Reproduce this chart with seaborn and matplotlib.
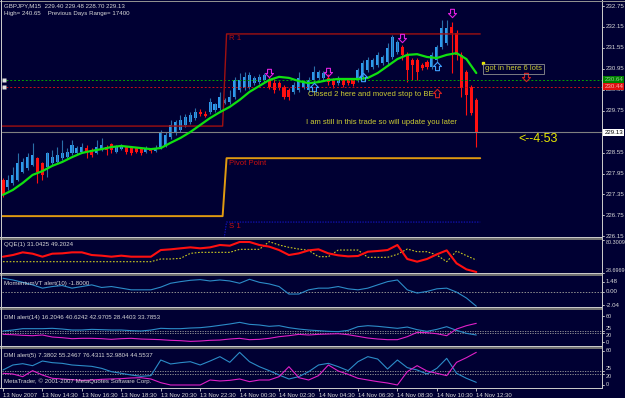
import matplotlib
matplotlib.use("Agg")
import matplotlib.pyplot as plt
import matplotlib.transforms as mtrans
from matplotlib.patches import Rectangle
from matplotlib.path import Path
from matplotlib import font_manager
import numpy as np
import seaborn as sns

# ---------------- data ----------------
title_line = "GBPJPY,M15  229.40 229.48 228.70 229.13"
info_line = "High= 240.65    Previous Days Range= 17400"

opens = [227.77, 227.56, 227.68, 227.77, 228.00, 228.11, 228.20, 228.39, 228.25, 228.14,
         228.25, 228.28, 228.39, 228.42, 228.54, 228.54, 228.57, 228.68, 228.62, 228.54,
         228.62, 228.71, 228.80, 228.57, 228.65, 228.71, 228.68, 228.68, 228.65, 228.57,
         228.65, 228.60, 228.71, 228.77, 228.99, 229.11, 229.20, 229.34, 229.43, 229.54,
         229.71, 229.66, 229.71, 229.77, 229.83, 229.97, 230.00, 230.14, 230.34, 230.40,
         230.43, 230.54, 230.57, 230.63, 230.63, 230.54, 230.54, 230.43, 230.34, 230.29,
         230.34, 230.43, 230.34, 230.63, 230.69, 230.69, 230.69, 230.63, 230.54, 230.63,
         230.63, 230.63, 230.63, 230.72, 230.92, 231.00, 231.06, 231.12, 231.15, 231.29,
         231.43, 231.58, 231.35, 231.20, 231.20, 231.06, 231.15, 231.00, 231.20, 231.58,
         231.69, 232.15, 231.98, 231.35, 230.86, 230.43, 230.06]
highs = [227.82, 227.91, 228.14, 228.54, 228.39, 228.54, 228.83, 228.42, 228.28, 228.57,
         228.62, 228.71, 228.91, 228.68, 228.91, 228.74, 228.83, 228.77, 228.68, 228.91,
         228.97, 228.77, 228.83, 228.77, 228.80, 228.74, 228.71, 228.71, 228.68, 228.74,
         228.68, 228.77, 229.20, 229.14, 229.48, 229.48, 229.63, 229.66, 229.71, 229.83,
         229.80, 229.74, 230.11, 229.97, 230.29, 230.11, 230.34, 230.72, 230.83, 230.86,
         230.86, 230.74, 230.80, 230.83, 230.72, 230.66, 230.60, 230.49, 230.40, 230.57,
         230.86, 230.63, 230.72, 231.03, 230.92, 230.89, 230.80, 230.69, 230.74, 230.69,
         230.69, 230.69, 230.97, 231.20, 231.29, 231.26, 231.43, 231.35, 231.69, 231.92,
         231.78, 231.63, 231.43, 231.26, 231.26, 231.12, 231.20, 231.43, 231.63, 232.35,
         232.35, 232.29, 232.06, 231.43, 230.92, 230.49, 230.11]
lows = [227.28, 227.48, 227.62, 227.74, 227.97, 228.05, 228.17, 227.68, 227.77, 227.85,
        228.20, 228.25, 228.34, 228.39, 228.48, 228.51, 228.54, 228.39, 228.42, 228.51,
        228.60, 228.48, 228.54, 228.54, 228.62, 228.51, 228.48, 228.54, 228.48, 228.54,
        228.54, 228.57, 228.65, 228.71, 228.94, 229.05, 229.14, 229.28, 229.37, 229.48,
        229.60, 229.57, 229.66, 229.71, 229.77, 229.93, 229.94, 230.09, 230.29, 230.34,
        230.37, 230.49, 230.52, 230.57, 230.37, 230.26, 230.34, 230.09, 230.06, 230.23,
        230.29, 230.37, 230.29, 230.57, 230.63, 230.63, 230.49, 230.40, 230.49, 230.43,
        230.49, 230.46, 230.57, 230.66, 230.86, 230.95, 231.00, 231.06, 231.09, 231.23,
        231.38, 231.20, 230.57, 230.63, 230.63, 230.93, 230.95, 230.95, 231.15, 231.52,
        231.63, 230.83, 231.20, 230.14, 229.63, 229.63, 228.70]
closes = [227.34, 227.77, 227.91, 228.25, 228.28, 228.42, 228.48, 228.00, 227.91, 228.54,
          228.42, 228.48, 228.54, 228.57, 228.77, 228.68, 228.71, 228.54, 228.48, 228.71,
          228.77, 228.62, 228.62, 228.71, 228.74, 228.57, 228.54, 228.57, 228.54, 228.68,
          228.60, 228.68, 229.14, 229.05, 229.34, 229.43, 229.48, 229.57, 229.63, 229.71,
          229.66, 229.60, 230.00, 229.93, 230.14, 230.06, 230.14, 230.63, 230.63, 230.72,
          230.77, 230.69, 230.72, 230.77, 230.43, 230.34, 230.40, 230.14, 230.14, 230.49,
          230.69, 230.57, 230.63, 230.86, 230.86, 230.83, 230.57, 230.49, 230.69, 230.49,
          230.54, 230.52, 230.92, 231.12, 231.20, 231.20, 231.35, 231.29, 231.55, 231.86,
          231.72, 231.35, 230.93, 231.06, 230.86, 230.97, 231.00, 231.35, 231.58, 232.12,
          232.12, 231.98, 231.35, 230.40, 230.20, 229.69, 229.13]

# indicator readings, every second bar
ind_bars = list(range(0, 97, 2))
ma_vals = [227.34, 227.48, 227.68, 227.91, 228.02, 228.17, 228.28, 228.42, 228.54, 228.60,
           228.65, 228.71, 228.74, 228.71, 228.68, 228.65, 228.68, 228.83, 228.97, 229.14,
           229.34, 229.54, 229.71, 229.86, 230.06, 230.29, 230.46, 230.63, 230.72, 230.69,
           230.60, 230.54, 230.57, 230.63, 230.66, 230.66, 230.66, 230.69, 230.83, 231.03,
           231.23, 231.35, 231.37, 231.29, 231.26, 231.35, 231.40, 231.23, 230.83]
qqe_rsi = [54.2, 56.8, 61.0, 58.9, 54.2, 58.9, 59.4, 61.0, 61.0, 56.8, 55.8, 54.2, 55.8,
           54.2, 54.2, 54.2, 64.6, 65.7, 67.3, 68.8, 67.3, 68.8, 72.5, 71.4, 77.2, 77.2,
           72.5, 69.9, 64.6, 56.8, 59.4, 64.1, 65.7, 59.4, 56.3, 54.7, 55.3, 62.0, 63.1,
           64.6, 72.5, 50.6, 46.4, 50.6, 57.9, 64.1, 43.8, 34.4, 30.3]
qqe_trail = [46.4] * 16 + [50.6, 50.6, 51.6, 59.4, 61.0, 61.0, 61.0, 61.0, 65.7, 65.7,
                           65.7, 77.7, 72.5, 68.8, 66.2, 64.1, 54.2, 54.2, 64.6, 64.6,
                           64.6, 53.2, 53.2, 53.2, 57.9, 66.2, 62.0, 62.0, 56.8, 46.4,
                           63.1, 55.8, 49.0]
momentum = [1.98, 1.73, 1.38, 1.00, 0.51, 0.75, 0.90, 0.51, 0.75, 1.00, 0.61, 0.75, 0.51,
            0.26, 0.26, 0.26, 0.66, 1.24, 1.48, 1.68, 1.78, 1.58, 1.73, 1.58, 1.24, 1.83,
            1.38, 1.14, 0.75, -0.37, -0.37, 0.26, 0.51, 0.51, 0.75, 0.41, 0.26, 0.51, 1.00,
            1.48, 1.73, 0.26, -0.22, 0.02, 0.41, 0.51, -0.08, -0.96, -2.18]
dmi14_plus = [25.4, 27.7, 30.8, 30.8, 30.8, 31.6, 30.0, 27.7, 27.7, 29.2, 28.5, 27.7, 27.7,
              26.2, 25.4, 27.7, 31.6, 30.8, 30.8, 32.3, 33.1, 35.4, 38.5, 41.6, 45.4, 40.8,
              39.3, 36.2, 37.7, 33.1, 30.0, 27.7, 26.2, 24.6, 23.9, 26.9, 35.4, 37.7, 36.2,
              33.9, 31.6, 34.6, 28.5, 24.6, 29.2, 35.4, 26.9, 20.0, 16.2]
dmi14_minus = [17.7, 16.9, 15.4, 14.6, 16.2, 11.5, 10.0, 7.7, 8.5, 8.5, 7.7, 6.2, 7.7, 8.5,
               6.9, 6.2, 5.4, 3.9, 3.1, 1.5, 2.3, 3.9, 4.6, 6.9, 8.5, 5.4, 6.2, 8.5, 12.3,
               14.6, 17.7, 16.2, 17.7, 18.5, 19.2, 16.9, 13.1, 9.2, 6.9, 5.4, 5.4, 12.3, 22.3,
               21.5, 19.2, 14.6, 30.0, 37.7, 43.1]
dmi5_plus = [26.5, 35.3, 37.6, 34.1, 42.3, 39.4, 38.2, 35.3, 34.1, 32.9, 29.4, 23.5, 20.6,
             17.6, 15.3, 16.5, 44.1, 37.1, 39.4, 41.1, 35.3, 42.3, 50.0, 40.0, 57.6, 41.1,
             32.3, 25.3, 17.6, 10.6, 14.7, 23.5, 35.3, 38.2, 32.3, 25.3, 41.1, 50.0, 45.8,
             28.2, 44.1, 30.6, 26.5, 19.4, 29.4, 47.0, 20.6, 11.8, 4.7]
dmi5_minus = [20.6, 19.4, 14.7, 25.3, 17.6, 11.8, 10.6, 9.4, 8.2, 8.8, 10.0, 10.6, 11.2,
              12.4, 12.9, 10.6, 4.1, 0.0, 0.0, 0.0, 0.0, 8.8, 7.1, 8.2, 10.6, 5.9, 8.8, 8.8,
              14.7, 32.3, 12.9, 8.8, 16.5, 35.3, 24.7, 18.8, 11.8, 8.8, 5.9, 3.5, 0.0, 23.5,
              34.1, 24.7, 20.6, 16.5, 40.0, 48.2, 57.6]

# pivot levels: previous day / current day
day_change_bar = 45
r1_levels = [229.31, 231.95]
pivot_levels = [226.73, 228.39]
s1_levels = [225.80, 226.56]

current_price = 229.13
buy_line = 230.64
sell_line = 230.44
price_ticks = [232.75, 232.15, 231.55, 230.95, 230.35, 229.75, 228.55, 227.95, 227.35, 226.75, 226.15]

fractal_bars = [54, 66, 81, 91]
fractal_prices = [230.83, 230.86, 231.83, 232.55]
signal_up_bars = [63, 73, 88]
signal_up_prices = [230.43, 230.72, 231.03]
trade_up_bars = [88]
trade_up_prices = [230.26]
trade_dn_bars = [106]
trade_dn_prices = [230.72]

tick_bars = list(range(0, 97, 8))
time_labels = ["13 Nov 2007", "13 Nov 14:30", "13 Nov 16:30", "13 Nov 18:30", "13 Nov 20:30",
               "13 Nov 22:30", "14 Nov 00:30", "14 Nov 02:30", "14 Nov 04:30", "14 Nov 06:30",
               "14 Nov 08:30", "14 Nov 10:30", "14 Nov 12:30"]

# ---------------- style ----------------
sns.set_theme(style="dark")
names = {f.name for f in font_manager.fontManager.ttflist}
NARROW = 'Liberation Sans Narrow' in names
UI = ['Liberation Sans Narrow' if NARROW else 'Liberation Sans', 'DejaVu Sans']
K = 1.18 if NARROW else 1.0
plt.rcParams['font.family'] = UI

W, H = 625, 398
BG = '#000033'
FG = '#D8D8D8'
UP, UP_W = '#2D9BF0', '#2A6FA8'
DN = '#FF1010'
ANN = '#CCCC33'
X_LO, X_HI = -0.2, 121.5

# hollow block-arrow markers
_dn = [(-0.28, 0.6), (0.28, 0.6), (0.28, 0.0), (0.58, 0.0), (0.0, -0.6), (-0.58, 0.0),
       (-0.28, 0.0), (-0.28, 0.6)]
ARROW_DN = Path(_dn, [Path.MOVETO] + [Path.LINETO] * 6 + [Path.CLOSEPOLY])
ARROW_UP = Path([(x, -y) for x, y in _dn], [Path.MOVETO] + [Path.LINETO] * 6 + [Path.CLOSEPOLY])

fig = plt.figure(figsize=(W / 100, H / 100), dpi=100, facecolor=BG)


def axes_px(x0, y0, x1, y1, ylim):
    ax = fig.add_axes([x0 / W, 1 - y1 / H, (x1 - x0) / W, (y1 - y0) / H])
    ax.set_facecolor(BG)
    for s in ax.spines.values():
        s.set_visible(False)
    ax.grid(False)
    ax.set_xticks([])
    ax.set_yticks([])
    ax.set_xlim(X_LO, X_HI)
    ax.set_ylim(*ylim)
    return ax


def ftext(xpx, ypx, s, size, color, ha='left', va='center', **kw):
    return fig.text(xpx / W, 1 - ypx / H, s, fontsize=size * K, color=color,
                    ha=ha, va=va, family=UI, **kw)


def rlabel(ax, val, s, va='center', size=4.4, **kw):
    tr = mtrans.blended_transform_factory(ax.transAxes, ax.transData)
    ax.text(1.006, val, s, transform=tr, fontsize=size * K, color=FG, ha='left', va=va,
            family=UI, clip_on=False, **kw)
    ax.plot([1.0, 1.004], [val, val], transform=tr, color=FG, lw=0.6, clip_on=False)


# ---------------- main price panel ----------------
ax = axes_px(2, 2, 602, 237, (226.132, 232.865))
bars = np.arange(len(opens))
o, h, l, c = map(np.array, (opens, highs, lows, closes))
up = c >= o
ax.vlines(bars[up], l[up], h[up], color=UP_W, lw=0.8)
ax.vlines(bars[~up], l[~up], h[~up], color=DN, lw=0.8)
body_lo = np.minimum(o, c)
body_h = np.maximum(np.abs(c - o), 0.03)
ax.bar(bars[up], body_h[up], bottom=body_lo[up], width=0.62, color=UP, linewidth=0)
ax.bar(bars[~up], body_h[~up], bottom=body_lo[~up], width=0.62, color=DN, linewidth=0)

# horizontal lines
ax.axhline(current_price, color='#808080', lw=0.8)
ax.axhline(buy_line, color='#00A000', lw=0.7, ls=(0, (2, 2)))
ax.axhline(sell_line, color='#C81010', lw=0.7, ls=(0, (2, 2)))
ax.plot([0.2, 0.2], [buy_line, sell_line], ls='none', marker='s', ms=2.2,
        mfc='#E0E0E0', mec='none')

# pivot lines
seg_x = [X_LO, day_change_bar - 0.45, day_change_bar + 0.35, 96.8]
ax.plot(seg_x, [r1_levels[0], r1_levels[0], r1_levels[1], r1_levels[1]], color='#A01010', lw=1.0)
ax.plot(seg_x, [pivot_levels[0], pivot_levels[0], pivot_levels[1], pivot_levels[1]],
        color='#E09A10', lw=1.4)
ax.plot(seg_x[1:], [s1_levels[0], s1_levels[1], s1_levels[1]], color='#1414C8', lw=0.8,
        ls=(0, (1.2, 1.2)))

# moving average
sns.lineplot(x=ind_bars, y=ma_vals, ax=ax, color='#10E010', linewidth=1.6, legend=False)

# arrows
ax.plot(fractal_bars, fractal_prices, ls='none', marker=ARROW_DN, ms=6, mfc='none',
        mec='#E020E0', mew=0.8)
ax.plot(signal_up_bars, signal_up_prices, ls='none', marker=ARROW_UP, ms=6, mfc='none',
        mec='#40A0FF', mew=0.8)
ax.plot(trade_up_bars, trade_up_prices, ls='none', marker=ARROW_UP, ms=6, mfc='none',
        mec='#D02020', mew=0.8)
ax.plot(trade_dn_bars, trade_dn_prices, ls='none', marker=ARROW_DN, ms=6, mfc='none',
        mec='#D02020', mew=0.8)

# price scale
for p in price_ticks:
    rlabel(ax, p, f"{p:.2f}")
tr = mtrans.blended_transform_factory(ax.transAxes, ax.transData)
ax.text(1.004, current_price, f"{current_price:.2f}", transform=tr, fontsize=4.4 * K, color='black',
        ha='left', va='center', family=UI, clip_on=False, zorder=5,
        bbox=dict(boxstyle='square,pad=0.15', fc='white', ec='none'))
ax.text(1.004, buy_line, f"{buy_line:.2f}", transform=tr, fontsize=4.4 * K, color='#90D090',
        ha='left', va='center', family=UI, clip_on=False, zorder=5,
        bbox=dict(boxstyle='square,pad=0.15', fc='#008000', ec='none'))
ax.text(1.004, sell_line, f"{sell_line:.2f}", transform=tr, fontsize=4.4 * K, color='#FFB0B0',
        ha='left', va='center', family=UI, clip_on=False, zorder=5,
        bbox=dict(boxstyle='square,pad=0.15', fc='#E01010', ec='none'))

# texts in main panel
ftext(4, 6, title_line, 4.4, FG)
ftext(4, 13, info_line, 4.4, FG)
ftext(229, 39, "R 1", 5.6, '#B01010')
ftext(229, 163, "Pivot Point", 5.6, '#C81010')
ftext(229, 227, "S 1", 5.6, '#C81010')
ftext(308, 95, "Closed 2 here and moved stop to BE", 5.5, ANN)
ftext(306, 122, "I am still in this trade so will update you later", 5.5, ANN)
ftext(485, 69, "got in here 6 lots", 5.5, ANN,
      bbox=dict(boxstyle='square,pad=0.25', fc='none', ec='#909090', lw=0.6))
ftext(518, 139, "<--4:53", 9, '#E8E800')
fig.add_artist(Rectangle((482 / W, 1 - 64 / H), 2 / W, 2 / H, transform=fig.transFigure,
                         color='#E8E800'))

# ---------------- QQE panel ----------------
aq = axes_px(2, 240, 602, 273, (28.6969, 80.3009))
sns.lineplot(x=ind_bars, y=qqe_trail, ax=aq, color='#C8C820', linewidth=0.8,
             linestyle=(0, (1.5, 1.5)), legend=False)
sns.lineplot(x=ind_bars, y=qqe_rsi, ax=aq, color='#FF1010', linewidth=1.5, legend=False)
ftext(4, 245, "QQE(1) 31.0425 49.2024", 4.4, FG)
rlabel(aq, 80.3009, "80.3009", va='top', size=3.9)
rlabel(aq, 28.6969, "28.6969", va='bottom', size=3.9)

# ---------------- Momentum panel ----------------
am = axes_px(2, 276, 602, 307, (-2.30, 2.32))
am.axhline(0, color='#909090', lw=0.7, ls=(0, (1.5, 1.5)))
sns.lineplot(x=ind_bars, y=momentum, ax=am, color='#2C8CC8', linewidth=0.8, legend=False)
ftext(4, 283, "MomentumVT alert(10) -1.8000", 4.4, FG)
for v, s in [(1.48, "1.48"), (0.0, "0.00"), (-2.04, "-2.04")]:
    rlabel(am, v, s)

# ---------------- DMI(14) panel ----------------
a14 = axes_px(2, 310, 602, 346, (-9.2, 73.9))
for lev in (20, 25):
    a14.axhline(lev, color='#A0A0A0', lw=0.6, ls=(0, (1.5, 1.5)))
sns.lineplot(x=ind_bars, y=dmi14_plus, ax=a14, color='#2C8CC8', linewidth=0.8, legend=False)
sns.lineplot(x=ind_bars, y=dmi14_minus, ax=a14, color='#E020C8', linewidth=0.8, legend=False)
ftext(4, 318, "DMI alert(14) 16.2046 40.6242 42.9705 28.4403 33.7853", 4.4, FG)
for v, va in ((60, 'center'), (25, 'bottom'), (20, 'top'), (0, 'center')):
    rlabel(a14, v, str(v), va=va, size=4.0)

# ---------------- DMI(5) panel ----------------
a5 = axes_px(2, 349, 602, 388, (-5.3, 63.5))
for lev in (20, 25):
    a5.axhline(lev, color='#A0A0A0', lw=0.6, ls=(0, (1.5, 1.5)))
sns.lineplot(x=ind_bars, y=dmi5_plus, ax=a5, color='#2C8CC8', linewidth=0.8, legend=False)
sns.lineplot(x=ind_bars, y=dmi5_minus, ax=a5, color='#E020C8', linewidth=0.8, legend=False)
ftext(4, 356, "DMI alert(5) 7.3802 55.2467 76.4311 52.9804 44.5537", 4.4, FG)
ftext(4, 381, "MetaTrader, \u00a9 2001-2007 MetaQuotes Software Corp.", 4.4, FG)
for v, va in ((60, 'center'), (25, 'bottom'), (20, 'top'), (0, 'center')):
    rlabel(a5, v, str(v), va=va, size=4.0)

a5.set_xticks(tick_bars)
a5.set_xticklabels(time_labels, ha='left', fontsize=4.3 * K, color=FG, family=UI)
a5.tick_params(axis='x', length=2.5, width=0.6, color=FG, pad=1, direction='out', bottom=True)
for a in (ax, aq, am, a14, a5):
    a.set_xlabel('')
    a.set_ylabel('')

# ---------------- frame / separators ----------------
def rect_px(x0, y0, x1, y1, color):
    fig.add_artist(Rectangle((x0 / W, 1 - y1 / H), (x1 - x0) / W, (y1 - y0) / H,
                             transform=fig.transFigure, color=color, lw=0))

for y0 in (237, 273, 307, 346):
    rect_px(0, y0, 602, y0 + 1, '#C8C8C8')
    rect_px(0, y0 + 1, 602, y0 + 2.5, '#707070')
rect_px(0, 387.5, 603, 388.5, '#C8C8C8')
rect_px(601.5, 0, 602.5, 388.5, '#C8C8C8')
rect_px(0, 0.5, 625, 1.5, '#909090')
rect_px(0.5, 0, 1.5, 388.5, '#C8C8C8')

fig.savefig('out.png', dpi=100, facecolor=BG)
